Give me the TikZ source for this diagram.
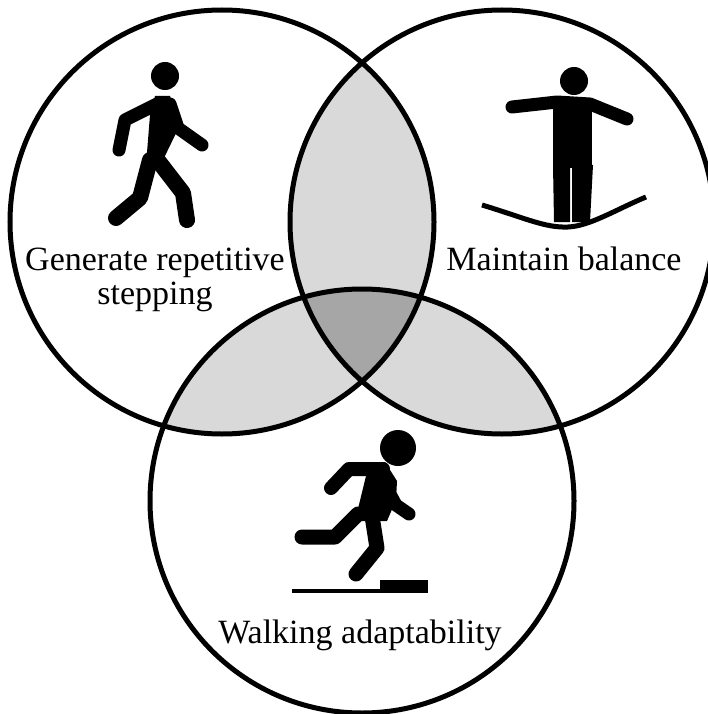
\documentclass[tikz,border=0pt]{standalone}
\usepackage{fontspec}
\setmainfont{Liberation Serif}
\definecolor{pairgray}{HTML}{D9D9D9}
\definecolor{tripgray}{HTML}{A6A6A6}
\begin{document}
\begin{tikzpicture}[x=1pt,y=-1pt,
  ring/.style={circle, draw, line width=5, minimum size=424, inner sep=0},
  limb/.style={line width=14, line cap=round, line join=round},
  lbl/.style={font=\fontsize{34}{34}\selectfont, align=center, inner sep=0}]
\useasboundingbox (0,0) rectangle (708,714);
\coordinate (cgen) at (222,222);
\coordinate (cbal) at (502,222);
\coordinate (cada) at (362,501);
\begin{scope}
\clip (cgen) circle[radius=212];
\fill[pairgray] (cbal) circle[radius=212];
\fill[pairgray] (cada) circle[radius=212];
\end{scope}
\begin{scope}
\clip (cbal) circle[radius=212];
\fill[pairgray] (cada) circle[radius=212];
\end{scope}
\begin{scope}
\clip (cgen) circle[radius=212];
\clip (cbal) circle[radius=212];
\fill[tripgray] (cada) circle[radius=212];
\end{scope}
\node[ring] (gen) at (cgen){};
\node[ring] (bal) at (cbal){};
\node[ring] (ada) at (cada){};
\fill (165,76) circle[radius=14];
\fill (155,96) -- (170,96) -- (180,125) -- (163,160) -- (146,165) -- (150,115) -- cycle;
\draw[limb, line width=13] (157,104) -- (125,120) -- (119,150);
\draw[limb, line width=13] (170,104) -- (178,128) -- (202,145);
\draw[limb, line width=16] (150,160) -- (140,198) -- (116,218);
\draw[limb, line width=16] (156,158) -- (183,193) -- (187,220);
\fill (574,81) circle[radius=14];
\draw[limb, line width=13] (512,107) -- (557,102) -- (590,104) -- (627,119);
\fill (553,100) rectangle (592,168);
\fill (553,165) -- (570,165) -- (570,222) -- (554,222) -- cycle;
\fill (572,165) -- (593,165) -- (590,222) -- (572,222) -- cycle;
\draw[line width=5] (482,205) .. controls (525,218) and (545,228) .. (568,227) .. controls (590,226) and (615,210) .. (646,197);
\fill (398,448) circle[radius=18];
\fill (348,462) -- (385,462) -- (397,481) -- (396,500) -- (387,521) -- (355,521) -- (366,476) -- cycle;
\draw[limb, line width=14] (383,469) -- (349,469) -- (331,488);
\draw[limb, line width=13] (390,494) -- (396,505) -- (409,514);
\draw[limb, line width=15] (358,514) -- (335,537) -- (302,537);
\draw[limb, line width=15] (372,516) -- (377,548) -- (356,574);
\draw[line width=4] (292,591) -- (380,591);
\fill (380,580) rectangle (428,593);
\node[lbl, anchor=base] (tgen) at (155,304) {Generate repetitive\\stepping};
\node[lbl, anchor=base] (tbal) at (564,270) {Maintain balance};
\node[lbl, anchor=base] (tada) at (360,643) {Walking adaptability};
\end{tikzpicture}
\end{document}
